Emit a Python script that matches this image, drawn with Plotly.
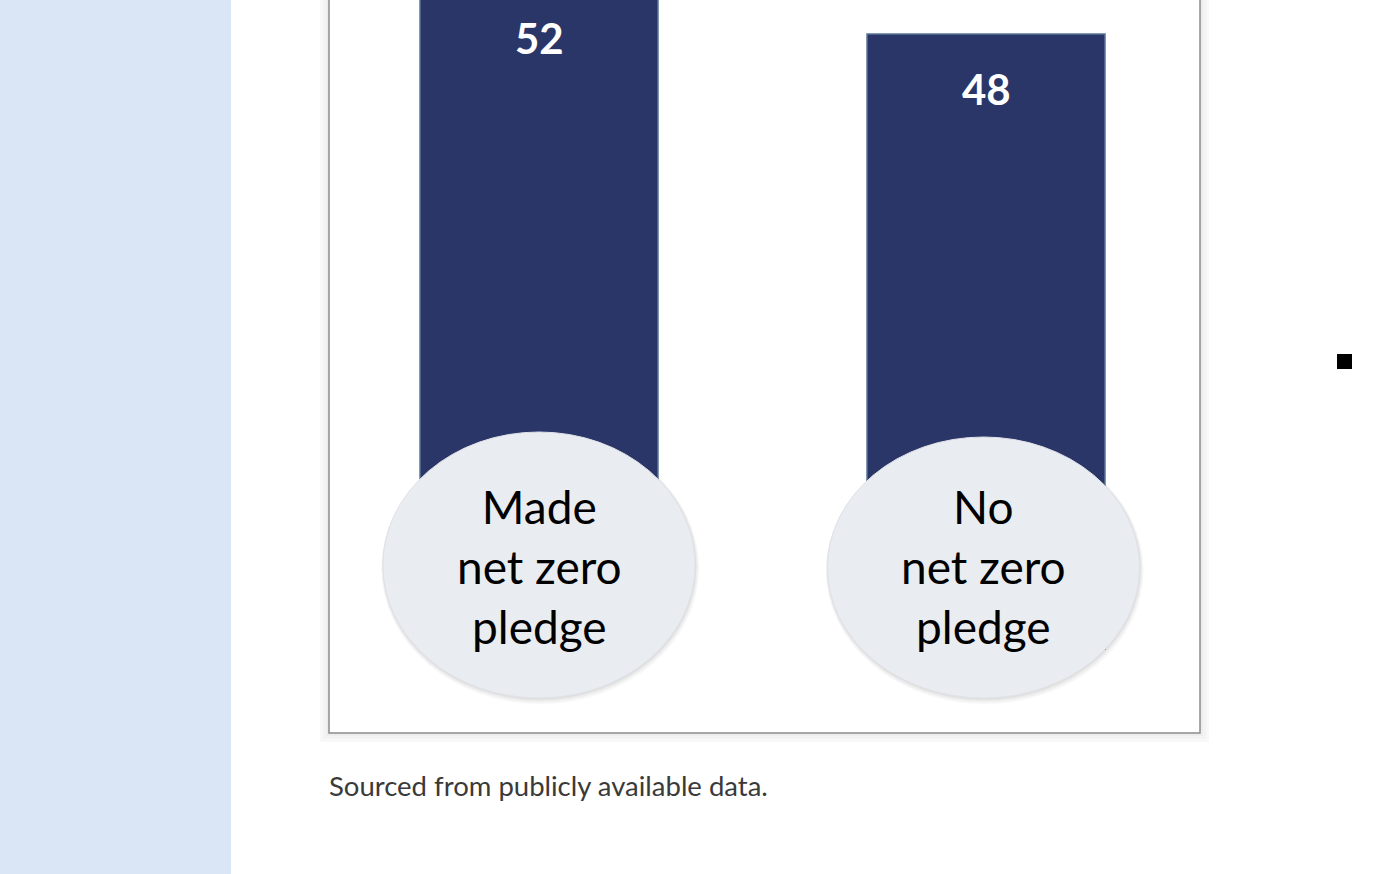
import plotly.graph_objects as go

# data
categories = ["Made<br>net zero<br>pledge", "No<br>net zero<br>pledge"]
values = [52, 48]
value_labels = ["52", "48"]
caption = "Sourced from publicly available data."

W, H = 1400, 874
UNIT = 447.0  # pixels per category step on the x axis

def px(x):
    return x / W

def py(y):
    return 1 - y / H

bar_fill = "#2b3668"
bar_edge = "#5b7597"
bubble = "#e9ecf1"

fig = go.Figure()
fig.add_trace(go.Bar(
    x=list(range(len(categories))), y=values,
    width=238 / UNIT,
    marker=dict(color=bar_fill, line=dict(color=bar_edge, width=1.5)),
    hoverinfo="skip",
))

shapes = []
# left blue panel
shapes.append(dict(type="rect", xref="paper", yref="paper", x0=0, x1=px(231), y0=0, y1=1,
                   fillcolor="#dae6f6", line_width=0, layer="below"))
# chart box soft shadow + border
for i, c in enumerate(["#f8f8f8", "#f3f3f3", "#ededed"]):
    d = 9 - 3 * i
    shapes.append(dict(type="rect", xref="paper", yref="paper",
                       x0=px(329 - d), x1=px(1200 + d), y0=py(733 + d), y1=py(-20),
                       fillcolor=c, line_width=0, layer="below"))
shapes.append(dict(type="rect", xref="paper", yref="paper",
                   x0=px(329), x1=px(1200), y0=py(733), y1=py(-20),
                   fillcolor="white", line=dict(color="#8c8c8c", width=1.5), layer="below"))

# label bubbles over the bar bottoms
bubble_y = [(432, 698), (437, 698)]
bubble_dx = [0, -2.5]
rx = 156 / UNIT
for i, cat in enumerate(categories):
    y0, y1 = bubble_y[i]
    cx = i + bubble_dx[i] / UNIT
    for off, col in [(6, "rgba(0,0,0,0.03)"), (4, "rgba(0,0,0,0.04)"), (2, "rgba(0,0,0,0.05)")]:
        shapes.append(dict(type="circle", xref="x", yref="paper",
                           x0=cx - rx - off * 0.3 / UNIT, x1=cx + rx + off * 0.7 / UNIT,
                           y0=py(y1 + off), y1=py(y0),
                           fillcolor=col, line_width=0, layer="above"))
    shapes.append(dict(type="circle", xref="x", yref="paper",
                       x0=cx - rx, x1=cx + rx, y0=py(y1), y1=py(y0),
                       fillcolor=bubble, line=dict(color="#dfe2e8", width=1), layer="above"))

# small black square marker on the right
shapes.append(dict(type="rect", xref="paper", yref="paper",
                   x0=px(1337), x1=px(1352), y0=py(369), y1=py(354),
                   fillcolor="black", line_width=0, layer="above"))

annotations = []
for i, (v, lab) in enumerate(zip(values, value_labels)):
    annotations.append(dict(x=i, y=v - 4.3, xref="x", yref="y", text="<b>" + lab + "</b>",
                            showarrow=False, font=dict(family="Lato", size=42, color="white")))
for i, cat in enumerate(categories):
    annotations.append(dict(x=i + bubble_dx[i] / UNIT, y=py(566), xref="x", yref="paper", text=cat,
                            yanchor="middle", showarrow=False,
                            font=dict(family="Lato", size=46, color="black")))
annotations.append(dict(x=px(327), y=py(785), xref="paper", yref="paper", text=caption,
                        xanchor="left", yanchor="middle", showarrow=False,
                        font=dict(family="Lato", size=27.5, color="#3a3a3a")))

fig.update_layout(
    width=W, height=H,
    margin=dict(l=0, r=0, t=0, b=0),
    paper_bgcolor="white", plot_bgcolor="rgba(0,0,0,0)",
    showlegend=False,
    shapes=shapes, annotations=annotations,
    xaxis=dict(domain=[315.5 / W, 1209.5 / W], range=[-0.5, 1.5],
               showgrid=False, zeroline=False, showticklabels=False, ticks=""),
    yaxis=dict(domain=[py(650), 1], range=[0, 650 / (616 / 48)],
               showgrid=False, zeroline=False, showticklabels=False, ticks=""),
)

fig.write_html("out.html", config={"displayModeBar": False},
               post_script="document.body.style.margin='0';")
